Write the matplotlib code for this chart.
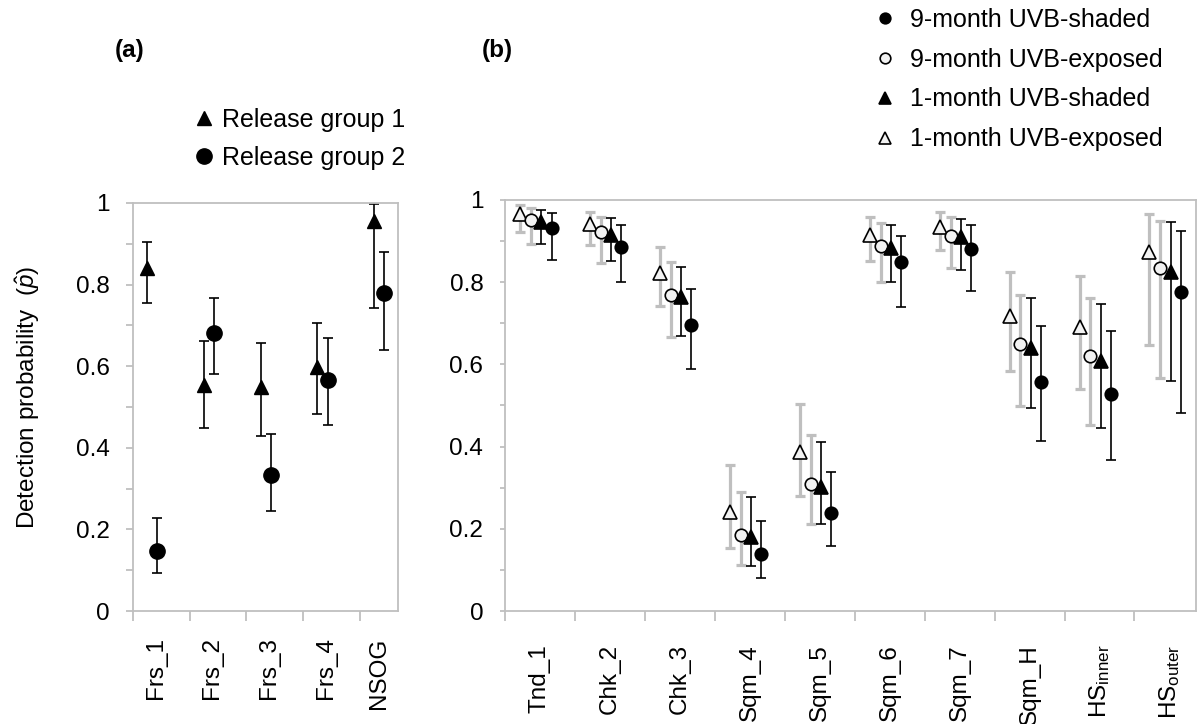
import numpy as np
import matplotlib.pyplot as plt
from matplotlib.ticker import MultipleLocator, FuncFormatter

plt.rcParams['font.family'] = ['Liberation Sans', 'DejaVu Sans']
plt.rcParams['mathtext.fontset'] = 'custom'
plt.rcParams['mathtext.rm'] = 'Liberation Sans'
plt.rcParams['mathtext.it'] = 'Liberation Sans:italic'
plt.rcParams['font.size'] = 17.5

# (a) detection probability per release group
sites_a = ['Frs_1', 'Frs_2', 'Frs_3', 'Frs_4', 'NSOG']
grp1_p = [0.841, 0.553, 0.548, 0.597, 0.955]
grp1_lo = [0.754, 0.448, 0.430, 0.482, 0.742]
grp1_hi = [0.904, 0.661, 0.656, 0.707, 0.998]
grp2_p = [0.148, 0.682, 0.334, 0.567, 0.780]
grp2_lo = [0.092, 0.580, 0.244, 0.457, 0.639]
grp2_hi = [0.227, 0.768, 0.434, 0.670, 0.879]

# (b) detection probability per tag age / UVB treatment
sites_b = ['Tnd_1', 'Chk_2', 'Chk_3', 'Sqm_4', 'Sqm_5', 'Sqm_6', 'Sqm_7',
           'Sqm_H', r'HS$_{\mathregular{inner}}$', r'HS$_{\mathregular{outer}}$']
m9_shaded_p = [0.933, 0.886, 0.697, 0.138, 0.239, 0.849, 0.881, 0.558, 0.528, 0.777]
m9_shaded_lo = [0.854, 0.800, 0.588, 0.080, 0.158, 0.740, 0.779, 0.413, 0.367, 0.481]
m9_shaded_hi = [0.968, 0.939, 0.783, 0.218, 0.337, 0.912, 0.938, 0.694, 0.681, 0.925]
m9_exposed_p = [0.951, 0.921, 0.770, 0.186, 0.308, 0.889, 0.913, 0.649, 0.620, 0.834]
m9_exposed_lo = [0.894, 0.847, 0.667, 0.111, 0.211, 0.801, 0.835, 0.498, 0.452, 0.566]
m9_exposed_hi = [0.980, 0.959, 0.850, 0.290, 0.429, 0.943, 0.959, 0.769, 0.761, 0.950]
m1_shaded_p = [0.947, 0.915, 0.763, 0.179, 0.302, 0.882, 0.911, 0.639, 0.608, 0.825]
m1_shaded_lo = [0.893, 0.851, 0.670, 0.110, 0.211, 0.800, 0.830, 0.493, 0.446, 0.560]
m1_shaded_hi = [0.976, 0.955, 0.838, 0.278, 0.412, 0.939, 0.954, 0.761, 0.748, 0.946]
m1_exposed_p = [0.965, 0.941, 0.823, 0.241, 0.387, 0.916, 0.935, 0.718, 0.692, 0.873]
m1_exposed_lo = [0.923, 0.890, 0.742, 0.153, 0.279, 0.852, 0.878, 0.584, 0.541, 0.647]
m1_exposed_hi = [0.988, 0.970, 0.886, 0.356, 0.503, 0.959, 0.970, 0.824, 0.815, 0.966]

AXIS_GREY = '#bfbfbf'
W, H = 1199, 724


def style_axes(ax, n, xmax, labels, label_pos, tick_len, label_pad):
    for s in ax.spines.values():
        s.set_color(AXIS_GREY)
        s.set_linewidth(1.3)
    ax.set_xlim(0, xmax)
    ax.set_ylim(0, 1)
    ax.yaxis.set_major_locator(MultipleLocator(0.2))
    ax.yaxis.set_minor_locator(MultipleLocator(0.1))
    ax.yaxis.set_major_formatter(FuncFormatter(lambda v, _: '%g' % round(v, 1)))
    ax.tick_params(axis='y', which='both', direction='out', length=tick_len,
                   width=1.3, color=AXIS_GREY, pad=12)
    # category boundaries get the tick marks, names sit between them
    ax.set_xticks(np.arange(n))
    ax.set_xticklabels([])
    ax.tick_params(axis='x', which='major', direction='out', length=7,
                   width=1.3, color=AXIS_GREY)
    ax.set_xticks(label_pos, minor=True)
    ax.set_xticklabels(labels, minor=True, rotation=90)
    ax.tick_params(axis='x', which='minor', length=0, pad=label_pad)


fig = plt.figure(figsize=(W / 100, H / 100), dpi=100)
ax_a = fig.add_axes([133 / W, 113 / H, 265 / W, 408 / H])
ax_b = fig.add_axes([505 / W, 113 / H, 691 / W, 411 / H])

# ---- panel (a)
xa = np.arange(len(sites_a)) + 0.5
style_axes(ax_a, len(sites_a), 4.67, sites_a,
           [0.4, 1.4, 2.4, 3.4, 4.33], 5, 19)

for p, lo, hi, dx in [(grp1_p, grp1_lo, grp1_hi, -0.25),
                      (grp2_p, grp2_lo, grp2_hi, -0.07)]:
    p, lo, hi = map(np.asarray, (p, lo, hi))
    ax_a.errorbar(xa + dx, p, yerr=[p - lo, hi - p], fmt='none', ecolor='black',
                  elinewidth=1.2, capsize=3.6, capthick=1.2, zorder=2)
h_g1, = ax_a.plot(xa - 0.25, grp1_p, ls='none', marker='^', ms=10, color='black',
                  label='Release group 1', zorder=3)
h_g2, = ax_a.plot(xa - 0.07, grp2_p, ls='none', marker='o', ms=11, color='black',
                  label='Release group 2', zorder=3)

# ---- panel (b)
xb = np.arange(len(sites_b)) + 0.5
style_axes(ax_b, len(sites_b), 9.88, sites_b, xb, 3.6, 24)

open_face = '#f2f2f2'
series_b = [
    (m1_exposed_p, m1_exposed_lo, m1_exposed_hi, -0.285, AXIS_GREY, 2.3, '^', 10.5, open_face, '1-month UVB-exposed'),
    (m9_exposed_p, m9_exposed_lo, m9_exposed_hi, -0.13, AXIS_GREY, 2.3, 'o', 9, open_face, '9-month UVB-exposed'),
    (m1_shaded_p, m1_shaded_lo, m1_shaded_hi, 0.02, 'black', 1.2, '^', 10.5, 'black', '1-month UVB-shaded'),
    (m9_shaded_p, m9_shaded_lo, m9_shaded_hi, 0.165, 'black', 1.2, 'o', 9, 'black', '9-month UVB-shaded'),
]
handles_b = {}
for p, lo, hi, dx, ecol, elw, mk, ms, face, name in series_b:
    p, lo, hi = map(np.asarray, (p, lo, hi))
    ax_b.errorbar(xb + dx, p, yerr=[p - lo, hi - p], fmt='none', ecolor=ecol,
                  elinewidth=elw, capsize=3.6, capthick=elw, zorder=2)
for p, lo, hi, dx, ecol, elw, mk, ms, face, name in series_b:
    h, = ax_b.plot(xb + dx, p, ls='none', marker=mk, ms=ms, markerfacecolor=face,
                   markeredgecolor='black', markeredgewidth=1.2, label=name, zorder=3)
    handles_b[name] = h

# ---- text and legends
fig.text(28 / W, 1 - 397 / H, r'Detection probability  ($\hat{p}$)', rotation=90,
         ha='center', va='center')
fig.text(130 / W, 1 - 50 / H, '(a)', weight='bold', ha='center', va='center')
fig.text(497 / W, 1 - 50 / H, '(b)', weight='bold', ha='center', va='center')

fig.legend(handles=[h_g1, h_g2], loc='upper left',
           bbox_to_anchor=(191 / W, 1 - 108 / H), frameon=False, borderpad=0,
           borderaxespad=0, handlelength=1.0, handletextpad=0.26,
           labelspacing=0.56, fontsize=18)
order = ['9-month UVB-shaded', '9-month UVB-exposed', '1-month UVB-shaded',
         '1-month UVB-exposed']
fig.legend(handles=[handles_b[k] for k in order], loc='upper left',
           bbox_to_anchor=(872 / W, 1 - 8 / H), frameon=False, borderpad=0,
           borderaxespad=0, handlelength=1.0, handletextpad=0.5,
           labelspacing=0.63, fontsize=18, markerscale=0.85)

fig.savefig('out.png', dpi=100)
